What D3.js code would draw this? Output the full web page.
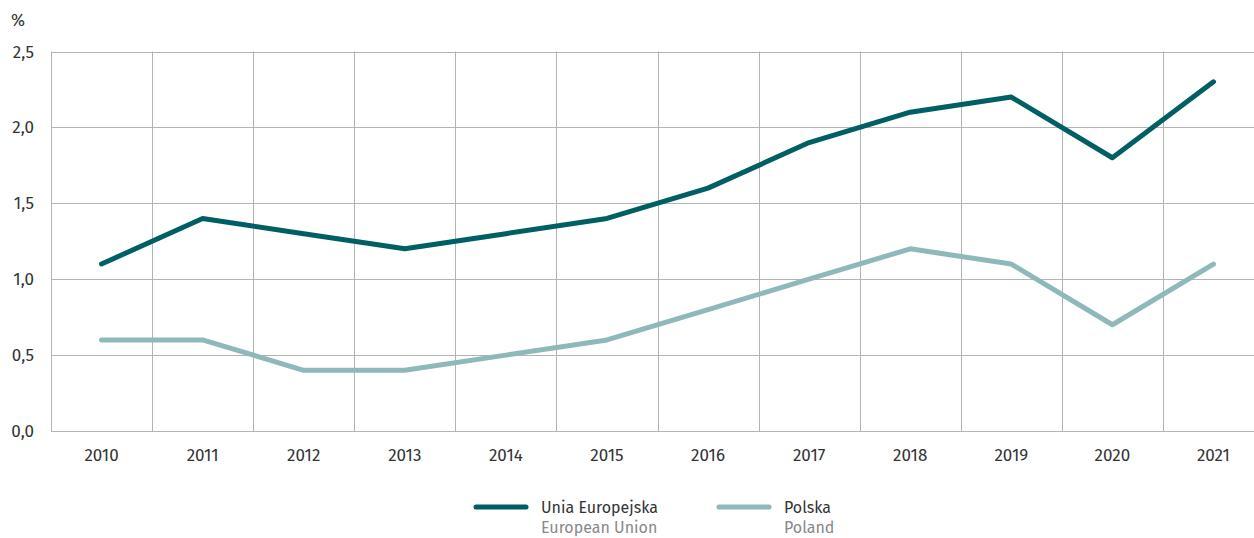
<!DOCTYPE html>
<html><head><meta charset="utf-8">
<script src="https://cdn.jsdelivr.net/npm/d3@7"></script>
<style>body{margin:0;background:#fff;}svg{display:block;font-family:"Fira Sans","Open Sans","Noto Sans",sans-serif;}</style>
</head><body>
<svg id="c" width="1254" height="538"></svg>
<script>
const years = ["2010","2011","2012","2013","2014","2015","2016","2017","2018","2019","2020","2021"];
const euValues = [1.1,1.4,1.3,1.2,1.3,1.4,1.6,1.9,2.1,2.2,1.8,2.3];
const plValues = [0.6,0.6,0.4,0.4,0.5,0.6,0.8,1.0,1.2,1.1,0.7,1.1];
const yTicks = [0,0.5,1.0,1.5,2.0,2.5];
const seriesNames = [["Unia Europejska","European Union"],["Polska","Poland"]];
const colors = ["#005f63","#8fb8bb"];

const svg = d3.select("#c");
const x = d3.scaleBand().domain(years).range([51,1264]);
const y = d3.scaleLinear().domain([0,2.5]).range([431,51.5]);
const g = svg.append("g");
g.selectAll(".hg").data(yTicks).join("line")
 .attr("x1",51).attr("x2",1264)
 .attr("y1",d=>Math.round(y(d))+0.5).attr("y2",d=>Math.round(y(d))+0.5)
 .attr("stroke","#b3b3b3").attr("stroke-width",1);
g.selectAll(".vg").data(years).join("line")
 .attr("x1",d=>Math.round(x(d))+0.5).attr("x2",d=>Math.round(x(d))+0.5)
 .attr("y1",y(2.5)).attr("y2",y(0))
 .attr("stroke","#b3b3b3").attr("stroke-width",1);
const fmt = d=>d3.format(".1f")(d).replace(".",",");
g.selectAll(".yl").data(yTicks).join("text")
 .attr("x",34).attr("y",d=>y(d)+6).attr("text-anchor","end")
 .attr("font-size",17).attr("fill","#333").text(fmt);
svg.append("text").attr("x",11).attr("y",26).attr("font-size",17).attr("fill","#333").text("%");
g.selectAll(".xl").data(years).join("text")
 .attr("x",d=>x(d)+x.bandwidth()/2).attr("y",461).attr("text-anchor","middle")
 .attr("font-size",17).attr("fill","#333").text(d=>d);
const line = d3.line().x((d,i)=>x(years[i])+x.bandwidth()/2).y(d=>y(d));
[plValues, euValues].forEach((vals,k)=>{
  const ci = k===0?1:0;
  svg.append("path").attr("d",line(vals)).attr("fill","none")
   .attr("stroke",colors[ci]).attr("stroke-width",5).attr("stroke-linejoin","round").attr("stroke-linecap","round");
});
const lx = [474,717];
seriesNames.forEach((n,i)=>{
  svg.append("line").attr("x1",lx[i]+2).attr("x2",lx[i]+52).attr("y1",507).attr("y2",507)
   .attr("stroke",colors[i]).attr("stroke-width",5).attr("stroke-linecap","round");
  svg.append("text").attr("x",lx[i]+67).attr("y",513).attr("font-size",16).attr("fill","#333").text(n[0]);
  svg.append("text").attr("x",lx[i]+67).attr("y",533).attr("font-size",16).attr("fill","#888").text(n[1]);
});
</script>
</body></html>
